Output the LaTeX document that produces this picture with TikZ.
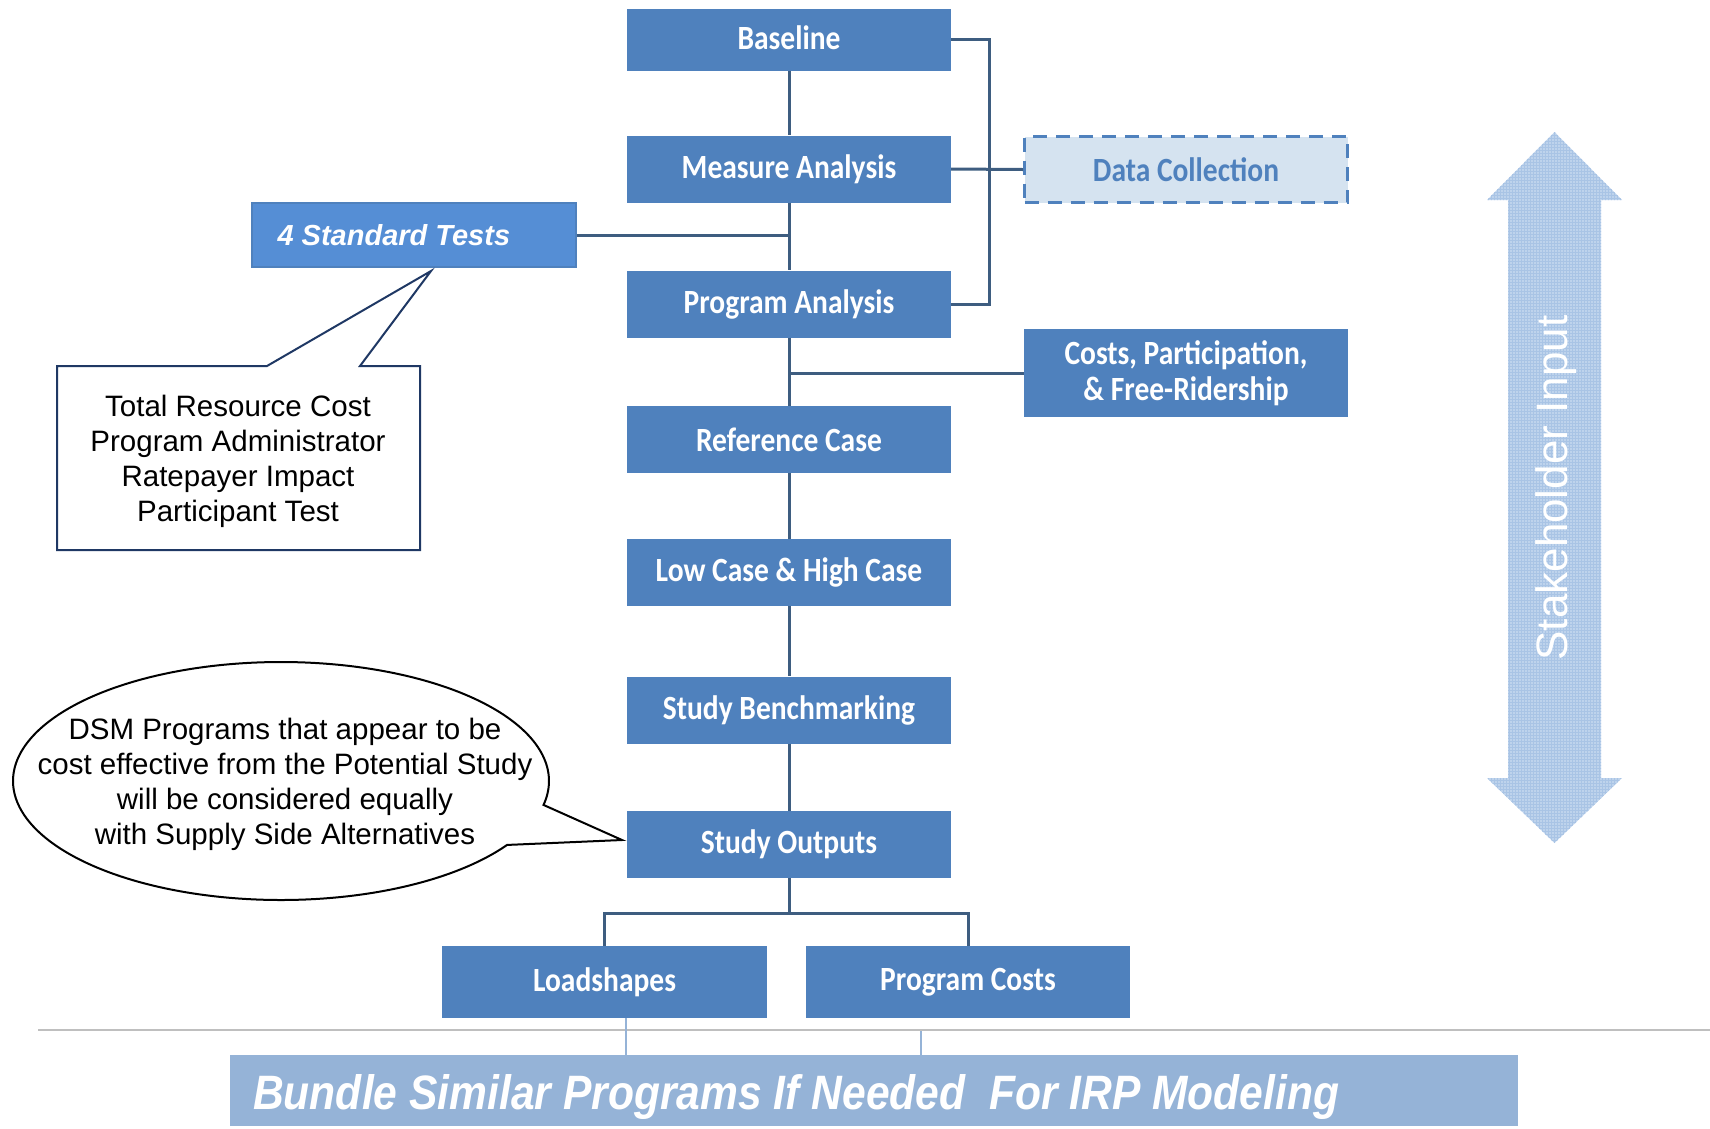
\documentclass[tikz,border=0pt]{standalone}
\usepackage{graphicx}
\usepackage{fontspec}
\setmainfont{Liberation Sans}
\newfontfamily\calfont{Carlito}
\usetikzlibrary{patterns}
\definecolor{boxblue}{HTML}{4F81BD}
\definecolor{testblue}{HTML}{558ED5}
\definecolor{linecol}{HTML}{3E5D80}
\definecolor{datafill}{HTML}{D5E3F0}
\definecolor{bannerblue}{HTML}{95B3D7}
\definecolor{arrowblue}{HTML}{BED3EC}
\definecolor{arrowgrid}{HTML}{A9C4E5}
\definecolor{navy}{HTML}{1F3864}
\newcommand\tallt[1]{\scalebox{1}[1.15]{#1}}
\begin{document}
\begin{tikzpicture}[x=1pt,y=-1pt,
  stage/.style={fill=boxblue, draw=none, minimum width=324pt, minimum height=67pt,
    text=white, font=\calfont\bfseries\fontsize{29.5}{33}\selectfont, align=center, inner sep=0pt},
  conn/.style={draw=linecol, line width=3pt},
  thin/.style={draw=bannerblue, line width=2pt},
  note/.style={font=\fontsize{29.5}{35}\selectfont, align=center, text=black, inner sep=0pt}]
\useasboundingbox (0,0) rectangle (1710,1128);

% stakeholder double arrow
\path[fill=arrowblue] (1554.5,132) -- (1622,200) -- (1601,200) -- (1601,778) -- (1622,778)
  -- (1554.5,843) -- (1487,778) -- (1508,778) -- (1508,200) -- (1487,200) -- cycle;
\path[pattern=grid, pattern color=arrowgrid] (1554.5,132) -- (1622,200) -- (1601,200) -- (1601,778) -- (1622,778)
  -- (1554.5,843) -- (1487,778) -- (1508,778) -- (1508,200) -- (1487,200) -- cycle;
\node[rotate=90, text=white, font=\fontsize{44}{50}\selectfont] (stake) at (1556,488) {Stakeholder Input};

% main column
\node[stage, minimum height=62pt] (base) at (789,39.5) {\raisebox{3pt}{\tallt{Baseline}}};
\node[stage] (meas) at (789,169) {\tallt{Measure Analysis}};
\node[stage] (prog) at (789,304) {\tallt{Program Analysis}};
\node[stage] (ref) at (789,439.5) {\tallt{Reference Case}};
\node[stage] (low) at (789,572.5) {\tallt{Low Case \& High Case}};
\node[stage] (bench) at (789,710) {\tallt{Study Benchmarking}};
\node[stage] (out) at (789,844.5) {\tallt{Study Outputs}};
\node[stage, minimum width=325pt, minimum height=72pt] (load) at (604.5,982) {\tallt{Loadshapes}};
\node[stage, minimum height=72pt] (pcost) at (968,982) {\tallt{Program Costs}};

% side boxes
\node[stage, fill=datafill, draw=boxblue, line width=3pt, dash pattern=on 14pt off 9pt,
  text=boxblue, minimum width=323pt, minimum height=66pt] (data) at (1186,169.5) {\tallt{Data Collection}};
\node[stage, minimum height=88pt] (costs) at (1186,373) {\tallt{Costs, Participation,}\\[3pt]\tallt{\& Free-Ridership}};
\node[fill=testblue, draw=boxblue, line width=1.5pt, minimum width=324pt, minimum height=64pt, inner sep=0pt] (tests) at (414,235) {};
\node[anchor=west, text=white, font=\bfseries\itshape\fontsize{29}{33}\selectfont] (testtxt) at (274,235) {4 Standard Tests};

% connectors
\draw[conn] (base.south) -- (meas.north);
\draw[conn] (meas.south) -- (prog.north);
\draw[conn] (prog.south) -- (ref.north);
\draw[conn] (ref.south) -- (low.north);
\draw[conn] (low.south) -- (bench.north);
\draw[conn] (bench.south) -- (out.north);
\draw[conn] (tests.east) -- (tests.east -| meas.south);
\draw[conn] (costs.west) -- (costs.west -| prog.south);
\draw[conn] (base.east) -- ++(38,0) |- (prog.east);
\draw[conn] (meas.east) -- (data.west);
\draw[conn] (out.south) -- ++(0,35) coordinate (split);
\draw[conn] (load.north) |- (split) -| (pcost.north);

% separator and bundling banner
\draw[draw=black!25, line width=1.5pt] (38,1030) -- (1710,1030);
\node[fill=bannerblue, minimum width=1288pt, minimum height=71pt, inner sep=0pt] (banner) at (874,1090.5) {};
\node[anchor=base west, inner sep=0pt, text=white] (bantxt) at (253,1109)
  {\resizebox{1086pt}{35pt}{\bfseries\itshape Bundle Similar Programs If Needed\ \ For IRP Modeling}};
\coordinate (l1) at (626,1055);
\coordinate (l2) at (921,1055);
\coordinate (l2t) at (921,1031);
\draw[thin] (l1 |- load.south) -- (l1);
\draw[thin] (l2t) -- (l2);

% callout listing the four tests
\draw[draw=navy, line width=2pt, fill=white] (57,366) -- (267,366) -- (431,271) -- (360,366)
  -- (420,366) -- (420,550) -- (57,550) -- cycle;
\node[note] (testlist) at (238,461)
  {Total Resource Cost\\Program Administrator\\Ratepayer Impact\\Participant Test};

% speech bubble
\draw[draw=black, line width=2pt, fill=white]
  plot[domain=32.5:371.6, samples=240, smooth] ({281+268*cos(\x)},{781+119*sin(\x)}) -- (622,840) -- cycle;
\node[note] (dsm) at (285,784)
  {DSM Programs that appear to be\\cost effective from the Potential Study\\will be considered equally\\with Supply Side Alternatives};
\end{tikzpicture}
\end{document}
